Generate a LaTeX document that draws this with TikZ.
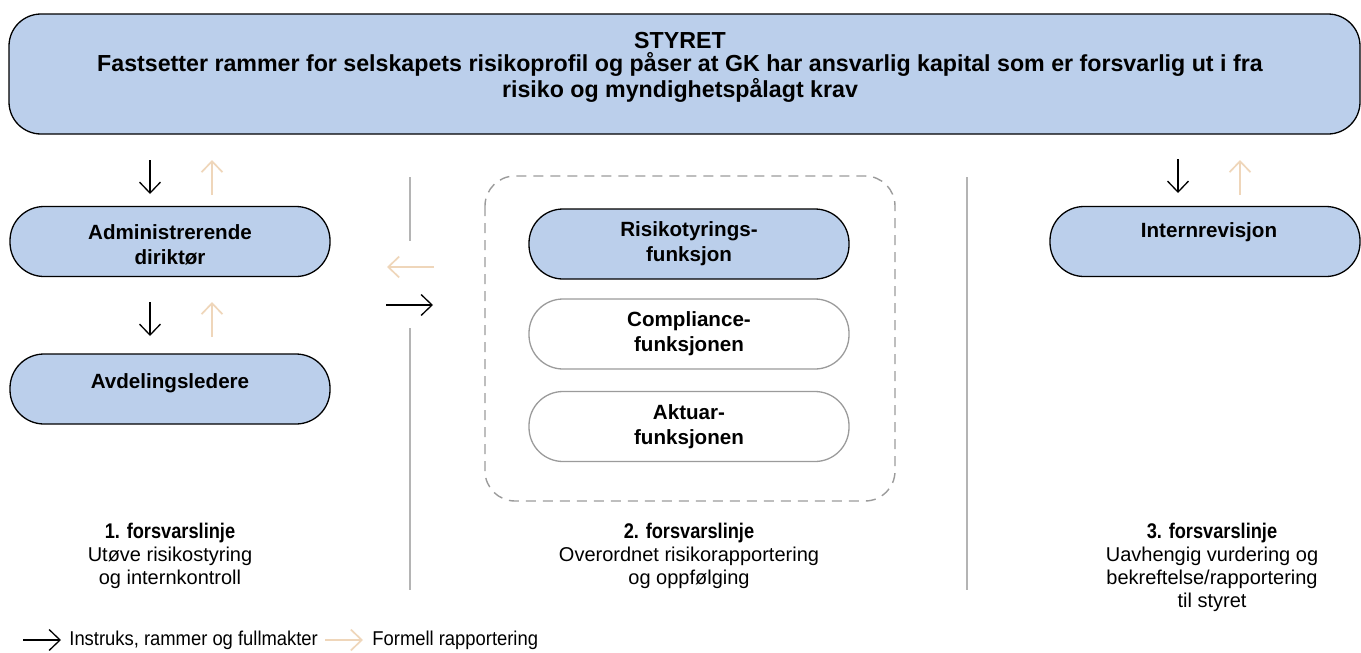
\documentclass[tikz,border=0pt]{standalone}
\usepackage{fontspec}
\setmainfont{Liberation Sans}
\newfontfamily\narrowfont{Liberation Sans}[FakeStretch=0.92]
\newfontfamily\condfont{Liberation Sans}[FakeStretch=0.86]
\usetikzlibrary{arrows.meta}
\definecolor{boxblue}{RGB}{187,207,235}
\definecolor{tanc}{RGB}{239,214,186}
\definecolor{linegrey}{RGB}{180,180,180}
\definecolor{boxgrey}{RGB}{155,155,155}
\tikzset{
  pill/.style={draw=black, line width=0.65pt, fill=boxblue, rounded corners=17pt,
    minimum width=160pt, minimum height=35pt, align=center, inner sep=0pt,
    font=\bfseries\fontsize{10.3}{12.5}\selectfont},
  whitepill/.style={pill, draw=boxgrey, fill=white},
  boxtext/.style={align=center, inner sep=0pt, font=\bfseries\fontsize{10.3}{12.5}\selectfont},
  instr/.style={draw=black, line width=0.65pt, -{Straight Barb[length=5.5pt,width=10.5pt,line width=0.65pt]}},
  report/.style={draw=tanc, line width=0.85pt, -{Straight Barb[length=5.5pt,width=10.5pt,line width=0.85pt]}},
  divider/.style={draw=linegrey, line width=0.6pt},
  linetitle/.style={align=center, font=\fontsize{10}{11.5}\selectfont, inner sep=0pt},
  legendtext/.style={anchor=west, font=\narrowfont\fontsize{10}{11.5}\selectfont, inner sep=0pt}
}
\begin{document}
\begin{tikzpicture}[x=0.5pt,y=-0.5pt]
\useasboundingbox (0,0) rectangle (1361,653);

% top box
\node[pill, minimum width=675.5pt, minimum height=60pt, rounded corners=16pt] (styret) at (684.5,74) {};
\node[align=center, inner sep=0pt, font=\bfseries\fontsize{11.6}{11.5}\selectfont] (styrettext) at (680,67)
  {STYRET\\Fastsetter rammer for selskapets risikoprofil og påser at GK har ansvarlig kapital som er forsvarlig ut i fra\\risiko og myndighetspålagt krav};

% column 1
\node[pill] (adm) at (170,241.5) {};
\node[boxtext] (admtext) at (170,244.5) {Administrerende\\diriktør};
\node[pill] (avd) at (170,389) {};
\node[boxtext] (avdtext) at (170,383) {Avdelingsledere};

% column 2
\draw[draw=boxgrey, line width=0.7pt, dash pattern=on 5pt off 3.5pt, rounded corners=15pt] (485,176) rectangle (895,501);
\node[pill] (risk) at (689,244) {Risikotyrings-\\funksjon};
\node[whitepill] (comp) at (689,334) {Compliance-\\funksjonen};
\node[whitepill] (akt) at (689,426.5) {Aktuar-\\funksjonen};

% column 3
\node[pill, minimum width=155pt] (intern) at (1205,241.5) {};
\node[boxtext] (interntext) at (1209,232) {Internrevisjon};

% dividers
\coordinate (d1a) at (410,177); \coordinate (d1b) at (410,241);
\coordinate (d1c) at (410,328); \coordinate (d1d) at (410,590);
\coordinate (d2a) at (967,177); \coordinate (d2b) at (967,590);
\draw[divider] (d1a) -- (d1b);
\draw[divider] (d1c) -- (d1d);
\draw[divider] (d2a) -- (d2b);

% arrows column 1
\coordinate (a1s) at (150,160); \coordinate (a1e) at (150,194);
\coordinate (r1s) at (212,195); \coordinate (r1e) at (212,160);
\coordinate (a2s) at (150,302); \coordinate (a2e) at (150,336);
\coordinate (r2s) at (212,337); \coordinate (r2e) at (212,302);
\draw[instr] (a1s) -- (a1e);
\draw[report] (r1s) -- (r1e);
\draw[instr] (a2s) -- (a2e);
\draw[report] (r2s) -- (r2e);

% arrows middle
\coordinate (hr1) at (434,267); \coordinate (hr2) at (387,267);
\coordinate (hi1) at (386,305); \coordinate (hi2) at (433,305);
\draw[report] (hr1) -- (hr2);
\draw[instr] (hi1) -- (hi2);

% arrows column 3
\coordinate (a3s) at (1178,159); \coordinate (a3e) at (1178,193);
\coordinate (r3s) at (1240,195); \coordinate (r3e) at (1240,160);
\draw[instr] (a3s) -- (a3e);
\draw[report] (r3s) -- (r3e);

% bottom texts
\node[linetitle] (l1) at (170,556) {{\condfont\bfseries\fontsize{10.6}{11.5}\selectfont 1. forsvarslinje}\\Utøve risikostyring\\og internkontroll};
\node[linetitle] (l2) at (689,556) {{\condfont\bfseries\fontsize{10.6}{11.5}\selectfont 2. forsvarslinje}\\Overordnet risikorapportering\\og oppfølging};
\node[linetitle] (l3) at (1212,567) {{\condfont\bfseries\fontsize{10.6}{11.5}\selectfont 3. forsvarslinje}\\Uavhengig vurdering og\\bekreftelse/rapportering\\til styret};

% legend
\coordinate (lg1s) at (23,640); \coordinate (lg1e) at (61,640);
\coordinate (lg2s) at (325,640); \coordinate (lg2e) at (363,640);
\draw[instr] (lg1s) -- (lg1e);
\draw[report] (lg2s) -- (lg2e);
\node[legendtext] (lt1) at (69,640) {Instruks, rammer og fullmakter};
\node[legendtext] (lt2) at (372,640) {Formell rapportering};
\end{tikzpicture}
\end{document}
